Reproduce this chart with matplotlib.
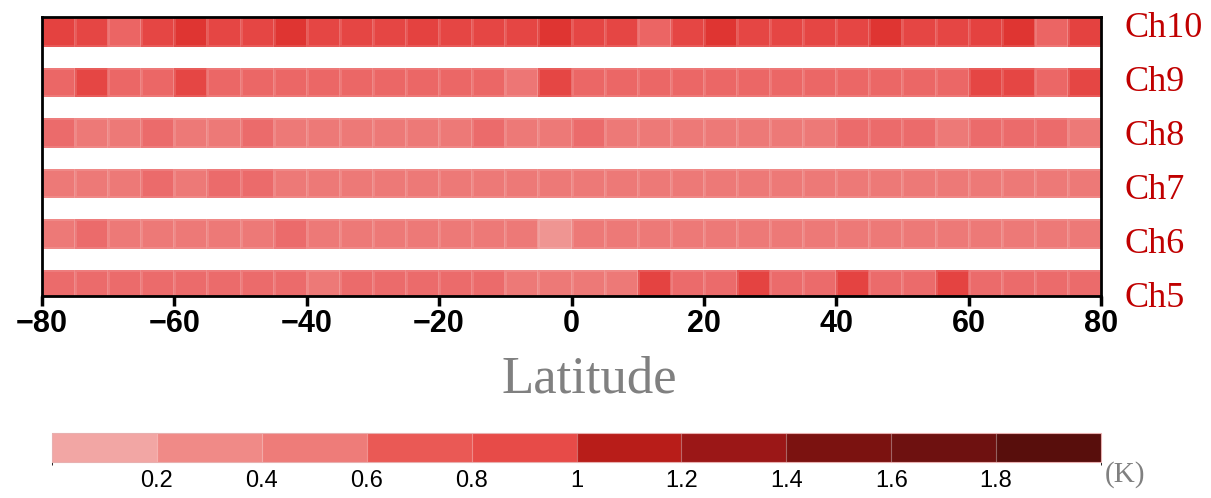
import numpy as np
import matplotlib
matplotlib.use("Agg")
import matplotlib.pyplot as plt
from matplotlib.colors import LinearSegmentedColormap, ListedColormap, BoundaryNorm, Normalize
from matplotlib.cm import ScalarMappable

# latitude bins (5 degree) and channels
lat_edges = np.arange(-80, 81, 5)
channels = ["Ch5", "Ch6", "Ch7", "Ch8", "Ch9", "Ch10"]

# values (K), south -> north
ch5 = [0.6, 0.6, 0.6, 0.6, 0.6, 0.6, 0.6, 0.6, 0.5, 0.6, 0.6, 0.6, 0.6, 0.6, 0.5, 0.5,
       0.5, 0.5, 0.93, 0.6, 0.6, 0.93, 0.6, 0.6, 0.93, 0.6, 0.6, 0.93, 0.6, 0.6, 0.6, 0.6]
ch6 = [0.5, 0.6, 0.5, 0.5, 0.5, 0.5, 0.5, 0.6, 0.5, 0.5, 0.5, 0.5, 0.5, 0.5, 0.5, 0.22,
       0.5, 0.5, 0.5, 0.5, 0.5, 0.5, 0.5, 0.5, 0.5, 0.5, 0.5, 0.5, 0.5, 0.5, 0.5, 0.5]
ch7 = [0.5, 0.5, 0.5, 0.6, 0.5, 0.6, 0.6, 0.5, 0.5, 0.5, 0.5, 0.5, 0.5, 0.5, 0.5, 0.5,
       0.5, 0.5, 0.5, 0.5, 0.5, 0.5, 0.5, 0.5, 0.5, 0.5, 0.5, 0.5, 0.5, 0.5, 0.5, 0.5]
ch8 = [0.6, 0.5, 0.5, 0.6, 0.5, 0.5, 0.6, 0.5, 0.5, 0.5, 0.5, 0.5, 0.5, 0.6, 0.5, 0.5,
       0.6, 0.5, 0.5, 0.5, 0.5, 0.5, 0.5, 0.5, 0.6, 0.6, 0.6, 0.5, 0.6, 0.6, 0.6, 0.5]
ch9 = [0.62, 0.92, 0.62, 0.62, 0.92, 0.62, 0.62, 0.62, 0.62, 0.62, 0.62, 0.62, 0.62, 0.62, 0.52, 0.92,
       0.62, 0.62, 0.62, 0.62, 0.62, 0.62, 0.62, 0.62, 0.62, 0.62, 0.62, 0.62, 0.92, 0.92, 0.62, 0.92]
ch10 = [0.94, 0.92, 0.63, 0.92, 1.0, 0.92, 0.92, 1.0, 0.92, 0.92, 0.92, 0.94, 0.92, 0.92, 0.92, 1.0,
        0.92, 0.92, 0.63, 0.92, 1.0, 0.92, 0.92, 0.92, 0.92, 1.0, 0.92, 0.92, 0.94, 1.0, 0.63, 0.94]
data = [ch5, ch6, ch7, ch8, ch9, ch10]

# colour scale
levels = [0, 0.2, 0.4, 0.6, 0.8, 1.0, 1.2, 1.4, 1.6, 1.8, 2.0]
cb_colors = ["#F2A6A4", "#F08A87", "#EE7C79", "#EA5955", "#E74B48",
             "#B81D19", "#9B1717", "#7B1210", "#6E1110", "#580E0C"]
# smooth version for the cells
anchors = [(0.0, "#F2A6A4"), (0.05, "#F2A6A4"), (0.11, "#EF9592"), (0.25, "#ED7977"),
           (0.3, "#EB6A6A"), (0.35, "#EA5955"), (0.46, "#E54644"), (0.5, "#E13633"),
           (0.55, "#B81D19"), (0.65, "#9B1717"), (0.75, "#7B1210"), (0.85, "#6E1110"),
           (1.0, "#580E0C")]
cell_cmap = LinearSegmentedColormap.from_list("cells", anchors)

fig = plt.figure(figsize=(12.11, 4.98), dpi=100)
ax = fig.add_axes([42 / 1211, 1 - 296 / 498, 1059 / 1211, 279 / 498])

band = 0.57
for i, vals in enumerate(data):
    ax.pcolormesh(lat_edges, [i, i + band], np.array([vals]), cmap=cell_cmap,
                  norm=Normalize(0, 2), edgecolor=(1, 1, 1, 0.12), linewidth=0.8)

ax.set_xlim(-80, 80)
ax.set_ylim(0.05, 5 + band)
ax.set_xticks([-80, -60, -40, -20, 0, 20, 40, 60, 80])
ax.set_xticklabels(["\u221280", "\u221260", "\u221240", "\u221220", "0", "20", "40", "60", "80"],
                   fontsize=22, fontweight="bold", family="Liberation Sans")
ax.set_yticks([])
ax.tick_params(axis="x", length=7, width=2.5, pad=2, color="black")
for s in ax.spines.values():
    s.set_linewidth(2)
    s.set_color("black")

# channel names on the right
baselines = [307, 253, 199, 145, 91, 37]
for name, yb in zip(channels, baselines):
    fig.text(1124 / 1211, 1 - yb / 498, name, color="#C00000", fontsize=26,
             family="Liberation Serif", va="baseline", ha="left")

fig.text(589 / 1211, 1 - 392 / 498, "Latitude", color="#808080", fontsize=38,
         family="Liberation Serif", va="baseline", ha="center")

# colour bar
cax = fig.add_axes([52 / 1211, 1 - 462 / 498, 1049 / 1211, 29 / 498])
sm = ScalarMappable(norm=BoundaryNorm(levels, len(cb_colors)), cmap=ListedColormap(cb_colors))
cb = fig.colorbar(sm, cax=cax, orientation="horizontal", ticks=levels[1:-1], drawedges=True)
cb.ax.set_xticklabels(["0.2", "0.4", "0.6", "0.8", "1", "1.2", "1.4", "1.6", "1.8"],
                      fontsize=17, family="Liberation Sans")
cb.ax.tick_params(length=0, pad=6)
cb.outline.set_edgecolor("#e8b0b0")
cb.outline.set_linewidth(0.8)
cb.dividers.set_color((1, 1, 1, 0.35))
cb.dividers.set_linewidth(0.8)

fig.text(1105 / 1211, 1 - 482 / 498, "(K)", color="#808080", fontsize=21,
         family="Liberation Serif", va="baseline", ha="left")

plt.savefig("out.png", dpi=100)
plt.close()
